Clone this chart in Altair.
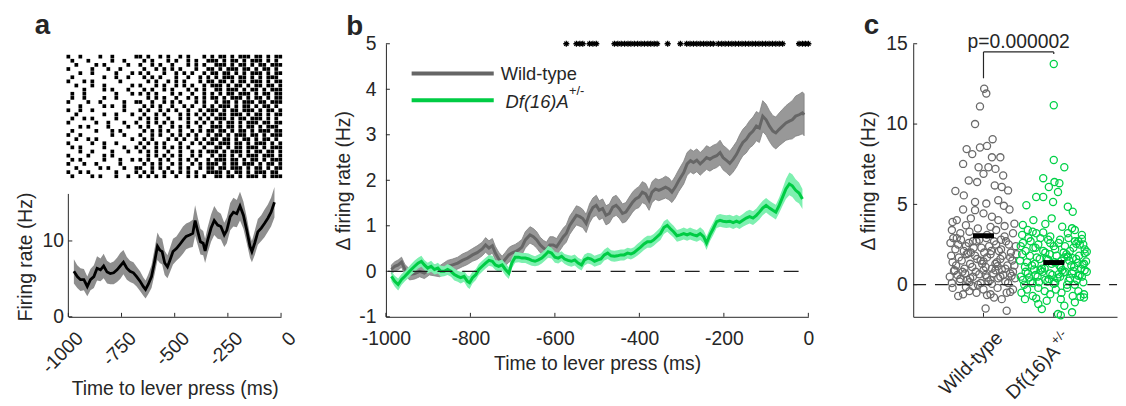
import altair as alt
import pandas as pd

FONT = "Liberation Sans"
INK = "#262626"
FS = 19.5

# ---------------- panel a : raster (one string per trial, '#' = spike in a 18.8 ms column)
raster_rows = [
    "#..#....#..#.....#" "#.#..#.#..#.#...#." "#.##.#.###.##.#.##",
    ".#...#.....#..#..." ".#.#...#.#..#.#..#" "##.#.##.#.###.#.#.",
    "..#....#.#.....#.." "#..#.#..#...#.#.#." ".###.#.##.#.##.###",
    "#.....#...#..#...." ".#..#.#.#.#...#..#" "#.#.###.##.#.##.#.",
    "...#..#.....#...#." "#.#...#..#.#.#..#." "##.##.#.#.###.#.##",
    ".#.......#..#..#.." ".#.#.#...#..#..#.#" ".#.###.##.#.#.###.",
    "#...#.#......#...." "..#.#..#.#.#...#.#" "#.##.#.##.###.#.##",
    "..#...#..#......#." "#...#.#..#.#.#..#." "###.#.##.#.##.##.#",
    "....#....#.#...#.." ".#.#..#.#...#.#.#." ".##.###.#.##.#.###",
    ".#..#.......#...#." "#.#.#...#.#..#..#." "#.#.##.###.#.##.##",
    ".#..#....#..#....." "..#.#.#..#..#.#.#." "##.#.###.#.##.#.##",
    "#....#..#.....#..#" "#..#..#.#.#...#.#." ".#.##.#.###.##.###",
    "...#.....#.#..#..." ".#.#.#..#..#.#..#." "#.###.#.##.#.##.#.",
    "#..#..#.......#..." "#.#..#.#.#..#..#.#" "##.#.##.###.#.##.#",
    "..#......#..#...#." ".#..#.#...#.#.#.#." "#.##.###.#.##.#.##",
    ".#..#.#.....#....." "#.#.#..#..#.#..#.#" ".###.#.##.###.#.#.",
    "#......#..#...#..#" "..#.#.#.#...#.#.#." "#.#.##.#.###.##.##",
    "...#.#....#....#.." "#.#..#..#.#.#..#.." "###.##.#.##.#.###.",
    ".#.....#...#.#...." ".#.#.#.#..#..#.#.#" "#.##.#.##.#.###.##",
    "#..#.......#..#..." "#..#.#..#.#.#.#..#" ".##.#.###.##.#.###",
    "..#..#.#........#." ".#.#...#.#.#..#.#." "##.##.#.##.#.##.#.",
    "#.....#..#..#....." "#.#.#.#...#..#.#.#" "#.###.##.#.###.#.#",
    ".#.#.....#....#..#" ".#..#.#.#.#.#...#." ".##.#.##.###.#.###",
    "...#..#....#...#.." "#.#.#..#..#..#.#.#" "##.#.###.#.##.##.#",
    "#....#...#.#......" "..#.#.#.#.#..#.#.." "#.##.#.#.###.###.#",
    ".#.#.....#...#..#." "#.#..#.#..#.#.#..#" ".###.##.#.##.#.###",
    "#...#..#.....#...." ".#.#.#..#.#..#.#.#" "##.#.##.###.#.##.#",
    "..#.....#.#...#..#" "#..#.#.#..#.#..#.#" "#.##.###.#.##.#.##",
    "#..#.#......#....#" ".#.#..#.#.#.#.#..#" "###.#.##.#.###.##.",
    ".#....#.#...#..#.." "#.#.#.#..#..#.#.#." ".##.##.#.###.#.###",
]
raster_start_ms = -1000
raster_bin_ms = 18.8

# ---------------- panel a : firing rate
rate_t = [-974, -958, -943, -927, -911, -896, -880, -865, -849, -834,
          -818, -803, -787, -771, -756, -741, -725, -710, -694, -679,
          -663, -648, -637, -624, -609, -593, -581, -570, -559, -547,
          -534, -522, -508, -492, -477, -461, -446, -430, -415, -404,
          -391, -379, -366, -357, -345, -329, -314, -298, -283, -267,
          -255, -239, -224, -208, -193, -177, -161, -146, -137, -124,
          -109, -93, -78, -62, -47, -31]
rate_hz = [6.0, 5.3, 4.9, 4.9, 4.0, 4.9, 5.3, 6.4, 6.2, 6.7,
           5.9, 5.7, 5.8, 6.2, 6.7, 7.2, 6.4, 6.0, 5.8, 5.3,
           4.7, 4.0, 3.6, 4.3, 5.3, 7.5, 9.3, 8.8, 8.6, 7.1,
           6.6, 7.5, 8.6, 9.0, 9.5, 10.1, 10.6, 10.8, 11.0, 12.7,
           11.2, 9.9, 9.7, 8.7, 10.1, 11.7, 12.7, 12.1, 11.9, 10.8,
           11.4, 13.2, 13.8, 13.6, 14.6, 13.4, 11.4, 9.3, 8.6, 9.7,
           11.2, 11.7, 12.3, 13.0, 13.8, 15.1]
rate_sem = [1.6, 1.5, 1.5, 1.4, 1.3, 1.4, 1.5, 1.6, 1.5, 1.6,
            1.5, 1.4, 1.5, 1.6, 1.7, 1.6, 1.5, 1.4, 1.4, 1.3,
            1.3, 1.2, 1.2, 1.3, 1.5, 1.7, 1.8, 1.7, 1.7, 1.6,
            1.5, 1.6, 1.7, 1.6, 1.7, 1.8, 1.7, 1.7, 1.8, 2.0,
            1.8, 1.7, 1.6, 1.6, 1.7, 1.8, 1.9, 1.8, 1.7, 1.6,
            1.7, 1.8, 1.9, 1.8, 1.9, 1.8, 1.7, 1.5, 1.4, 1.6,
            1.7, 1.7, 1.8, 1.8, 1.9, 2.0]
a_xticks = [-1000, -750, -500, -250, 0]
a_yticks = [0, 10]

# ---------------- panel b
wt_t = [-987, -979, -971, -963, -955, -944, -932, -920, -909, -897,
        -873, -854, -842, -830, -819, -807, -795, -784, -772, -764,
        -756, -748, -741, -733, -725, -717, -709, -702, -694, -686,
        -678, -670, -659, -651, -643, -635, -627, -620, -612, -604,
        -596, -588, -580, -573, -565, -557, -549, -541, -534, -526,
        -518, -510, -502, -495, -487, -479, -471, -463, -455, -448,
        -440, -432, -424, -416, -409, -401, -393, -385, -377, -370,
        -362, -354, -346, -338, -330, -323, -315, -307, -295, -287,
        -279, -272, -264, -256, -248, -241, -233, -225, -217, -209,
        -202, -194, -186, -178, -170, -162, -155, -147, -139, -131,
        -123, -116, -108, -100, -92, -84, -77, -69, -61, -53,
        -45, -38, -30, -22, -14, -10]
wt_v = [0.04, 0.11, 0.14, 0.20, 0.04, -0.07, -0.05, 0.00, -0.04, 0.04,
        0.00, 0.11, 0.14, 0.18, 0.24, 0.29, 0.36, 0.41, 0.49, 0.58,
        0.51, 0.56, 0.40, 0.27, 0.18, 0.27, 0.36, 0.40, 0.43, 0.47,
        0.53, 0.69, 0.80, 0.76, 0.69, 0.58, 0.51, 0.47, 0.58, 0.58,
        0.54, 0.65, 0.76, 0.83, 1.01, 1.12, 1.23, 1.20, 1.16, 1.05,
        1.27, 1.40, 1.45, 1.34, 1.38, 1.23, 1.27, 1.41, 1.45, 1.38,
        1.27, 1.30, 1.41, 1.52, 1.59, 1.63, 1.74, 1.70, 1.56, 1.74,
        1.81, 1.78, 1.81, 1.85, 1.81, 1.74, 1.85, 1.99, 2.17, 2.36,
        2.43, 2.39, 2.44, 2.36, 2.43, 2.50, 2.46, 2.51, 2.54, 2.61,
        2.50, 2.44, 2.37, 2.46, 2.57, 2.72, 2.83, 2.90, 3.01, 3.08,
        3.19, 3.15, 3.41, 3.33, 3.19, 3.08, 3.04, 3.12, 3.19, 3.26,
        3.30, 3.33, 3.41, 3.44, 3.48, 3.44]
wt_sem = [0.10, 0.10, 0.11, 0.11, 0.11, 0.12, 0.12, 0.12, 0.12, 0.12,
          0.12, 0.13, 0.13, 0.13, 0.14, 0.14, 0.14, 0.15, 0.15, 0.16,
          0.16, 0.16, 0.15, 0.15, 0.15, 0.15, 0.16, 0.16, 0.16, 0.17,
          0.17, 0.18, 0.18, 0.18, 0.18, 0.17, 0.17, 0.17, 0.18, 0.18,
          0.18, 0.19, 0.19, 0.19, 0.20, 0.20, 0.21, 0.21, 0.20, 0.20,
          0.21, 0.21, 0.22, 0.21, 0.21, 0.21, 0.21, 0.22, 0.22, 0.21,
          0.21, 0.21, 0.22, 0.22, 0.22, 0.23, 0.23, 0.23, 0.22, 0.23,
          0.23, 0.23, 0.23, 0.24, 0.24, 0.23, 0.24, 0.24, 0.25, 0.25,
          0.25, 0.25, 0.25, 0.25, 0.25, 0.26, 0.26, 0.26, 0.26, 0.27,
          0.27, 0.27, 0.27, 0.28, 0.28, 0.29, 0.29, 0.30, 0.30, 0.31,
          0.32, 0.32, 0.34, 0.34, 0.34, 0.34, 0.35, 0.36, 0.37, 0.38,
          0.40, 0.42, 0.44, 0.45, 0.46, 0.46]
df_t = [-987, -979, -971, -963, -955, -948, -940, -932, -924, -916,
        -909, -901, -893, -885, -877, -870, -862, -854, -846, -838,
        -830, -823, -815, -807, -802, -795, -787, -780, -772, -764,
        -756, -748, -741, -733, -725, -717, -709, -702, -694, -686,
        -678, -670, -662, -655, -647, -639, -631, -623, -616, -608,
        -600, -592, -584, -577, -569, -561, -553, -545, -537, -530,
        -522, -514, -506, -498, -491, -483, -475, -467, -459, -452,
        -444, -436, -428, -420, -413, -405, -397, -389, -381, -373,
        -366, -358, -350, -342, -334, -327, -319, -311, -303, -295,
        -287, -280, -272, -264, -256, -248, -241, -233, -225, -217,
        -209, -202, -194, -186, -178, -170, -163, -155, -147, -139,
        -131, -123, -116, -108, -100, -92, -84, -77, -69, -61,
        -53, -45, -38, -30, -22, -14]
df_v = [-0.11, -0.22, -0.29, -0.18, -0.11, -0.04, 0.04, 0.11, 0.18, 0.22,
        0.14, 0.07, 0.11, 0.04, 0.07, 0.00, 0.00, 0.04, 0.00, -0.07,
        -0.11, -0.14, -0.11, -0.22, -0.25, -0.14, -0.07, 0.04, 0.11, 0.18,
        0.24, 0.22, 0.14, 0.11, 0.14, 0.04, -0.04, 0.18, 0.31, 0.31,
        0.29, 0.29, 0.27, 0.24, 0.22, 0.25, 0.29, 0.36, 0.43, 0.40,
        0.31, 0.29, 0.33, 0.27, 0.24, 0.22, 0.25, 0.18, 0.14, 0.25,
        0.29, 0.27, 0.22, 0.25, 0.27, 0.36, 0.40, 0.34, 0.33, 0.34,
        0.36, 0.36, 0.40, 0.38, 0.41, 0.47, 0.53, 0.60, 0.65, 0.65,
        0.69, 0.76, 0.83, 0.96, 1.01, 0.94, 0.87, 0.78, 0.80, 0.83,
        0.80, 0.83, 0.80, 0.78, 0.83, 0.76, 0.62, 0.80, 0.94, 1.09,
        1.12, 1.10, 1.09, 1.10, 1.07, 1.10, 1.07, 1.12, 1.17, 1.20,
        1.17, 1.23, 1.30, 1.39, 1.45, 1.39, 1.34, 1.30, 1.45, 1.63,
        1.81, 1.92, 1.88, 1.78, 1.72, 1.59]
df_sem = [0.11, 0.12, 0.13, 0.12, 0.11, 0.12, 0.12, 0.13, 0.12, 0.12,
          0.11, 0.12, 0.12, 0.11, 0.12, 0.12, 0.11, 0.12, 0.12, 0.13,
          0.12, 0.13, 0.12, 0.13, 0.14, 0.13, 0.12, 0.12, 0.12, 0.12,
          0.12, 0.12, 0.11, 0.12, 0.12, 0.13, 0.13, 0.12, 0.12, 0.11,
          0.11, 0.11, 0.12, 0.12, 0.11, 0.12, 0.12, 0.12, 0.13, 0.12,
          0.12, 0.12, 0.11, 0.11, 0.12, 0.12, 0.12, 0.12, 0.12, 0.12,
          0.12, 0.12, 0.12, 0.12, 0.12, 0.12, 0.13, 0.12, 0.12, 0.12,
          0.12, 0.12, 0.12, 0.12, 0.12, 0.13, 0.13, 0.13, 0.13, 0.13,
          0.13, 0.13, 0.14, 0.14, 0.14, 0.13, 0.13, 0.13, 0.13, 0.13,
          0.13, 0.13, 0.13, 0.13, 0.14, 0.14, 0.15, 0.14, 0.14, 0.14,
          0.14, 0.14, 0.14, 0.14, 0.14, 0.14, 0.14, 0.14, 0.15, 0.15,
          0.15, 0.15, 0.16, 0.16, 0.16, 0.16, 0.16, 0.16, 0.17, 0.19,
          0.22, 0.25, 0.25, 0.24, 0.23, 0.22]
star_t = [-573, -549, -541, -534, -518, -510, -502, -459, -451, -443,
          -435, -427, -420, -412, -404, -396, -388, -380, -373, -365,
          -358, -333, -303, -288, -280, -272, -264, -256, -248, -240,
          -232, -225, -213, -205, -197, -189, -181, -173, -165, -157,
          -149, -141, -133, -125, -117, -109, -101, -93, -85, -77,
          -69, -61, -22, -14, -7, 0]
star_level = 5
b_xticks = [-1000, -800, -600, -400, -200, 0]
b_yticks = [-1, 0, 1, 2, 3, 4, 5]
series_names = ["Wild-type", "Df(16)A"]

# ---------------- panel c : per-cell delta firing rate (x jitter offsets + values)
wt_off = ([0.01, 0.04, -0.05, -0.12, 0.13, 0.05, -0.05, -0.24, -0.16, -0.29,
           0.12, 0.24, -0.07, 0.07, 0.17, 0.00, 0.28, -0.21, -0.09, 0.16,
           0.26, 0.35, -0.40, -0.28, -0.12, 0.04, 0.21, 0.29, 0.37, -0.29,
           -0.12, 0.00, 0.12, 0.21, -0.18, -0.38]
          + [-0.44, 0.44, -0.25, 0.30]
          + [-0.45, -0.33, -0.2, -0.08, 0.05, 0.18, 0.3, 0.42, -0.38, 0.1, 0.25, -0.15]
          + [-0.47, -0.40, -0.32, -0.25, -0.18, -0.10, -0.03, 0.04, 0.11, 0.18,
             0.25, 0.32, 0.39, 0.46, -0.43, -0.36, -0.28, -0.21, -0.14, -0.06,
             0.01, 0.08, 0.15, 0.22, 0.36]
          + [-0.46, -0.39, -0.31, -0.24, -0.16, -0.09, -0.02, 0.05, 0.12, 0.19,
             0.27, 0.34, 0.41, 0.47, -0.44, -0.35, -0.27, -0.19, -0.12, -0.04,
             0.03, 0.1, 0.17, 0.24, 0.31, 0.38, 0.44, -0.22, 0.0, 0.2]
          + [-0.48, -0.41, -0.34, -0.26, -0.19, -0.11, -0.04, 0.03, 0.1, 0.17,
             0.24, 0.31, 0.38, 0.45, -0.45, -0.37, -0.3, -0.23, -0.15, -0.08,
             0.0, 0.07, 0.14, 0.21, 0.28, 0.35, 0.42, -0.42, -0.2, 0.05,
             0.26, -0.33, 0.12, 0.4, -0.06]
          + [-0.36, -0.29, -0.2, -0.1, 0.0, 0.1, 0.2, 0.26, 0.33, 0.42,
             -0.44, -0.15, 0.05, 0.15, 0.03, 0.33, -0.25, 0.38])
wt_dfr = ([12.2, 11.9, 11.1, 10.0, 9.06, 8.64, 8.54, 8.44, 8.13, 7.52,
           7.93, 7.93, 7.31, 7.31, 7.21, 6.9, 6.8, 6.49, 6.39, 6.18,
           6.08, 5.87, 5.83, 5.56, 5.15, 5.05, 5.26, 4.91, 4.68, 4.68,
           4.64, 4.44, 4.23, 4.02, 4.13, 4.02]
          + [3.9, 3.8, 3.7, 3.65]
          + [3.4, 3.2, 3.3, 3.5, 3.1, 3.4, 3.0, 3.2, 2.9, 3.6, 2.8, 2.7]
          + [2.6, 2.2, 2.8, 2.4, 2.0, 2.7, 2.3, 2.9, 2.1, 2.5,
             2.2, 2.7, 2.0, 2.4, 2.9, 2.5, 2.1, 2.6, 2.3, 2.8,
             2.0, 2.4, 2.7, 2.1, 2.5]
          + [1.8, 1.2, 1.5, 1.9, 1.1, 1.6, 1.3, 1.7, 1.0, 1.4,
             1.8, 1.2, 1.5, 1.9, 1.4, 1.7, 1.0, 1.3, 1.8, 1.5,
             1.1, 1.9, 1.3, 1.6, 1.0, 1.7, 1.2, 1.95, 1.45, 1.15]
          + [0.5, 0.9, 0.2, 0.7, 0.4, 0.8, 0.1, 0.6, 0.3, 0.9,
             0.5, 0.2, 0.7, 0.4, 0.1, 0.6, 0.8, 0.3, 0.5, 0.0,
             0.9, 0.2, 0.7, 0.4, 0.6, 0.1, 0.8, 0.85, 0.15, 0.45,
             0.95, 0.35, 0.05, 0.55, 0.65]
          + [-0.7, -0.6, -0.4, -0.5, -0.3, -0.6, -0.2, -0.9, -0.5, -0.3,
             -0.2, -0.1, -0.65, -0.8, -1.48, -1.62, -0.15, -0.45])
mut_off = ([0.0, 0.0, 0.0, 0.15, -0.15, 0.01, 0.08, -0.07, 0.06, -0.25,
            -0.15, -0.01, -0.39, 0.2, 0.27, -0.03, -0.29, -0.44, -0.12, 0.12,
            0.26, -0.37, -0.25]
           + [-0.45, -0.3, -0.05, 0.2, 0.4, 0.3, -0.15]
           + [-0.47, -0.4, -0.33, -0.26, -0.19, -0.12, -0.05, 0.02, 0.09, 0.16,
              0.23, 0.3, 0.37, 0.44, -0.44, -0.36, -0.29, -0.22, -0.15, -0.08,
              0.0, 0.07, 0.14, 0.21, 0.28, 0.35, 0.42, 0.47, 0.32, 0.4]
           + [-0.48, -0.41, -0.34, -0.27, -0.2, -0.13, -0.06, 0.01, 0.08, 0.15,
              0.22, 0.29, 0.36, 0.43, -0.45, -0.38, -0.31, -0.24, -0.17, -0.1,
              -0.03, 0.04, 0.11, 0.18, 0.25, 0.32, 0.39, 0.46, 0.2, 0.34,
              0.44, -0.08, 0.1, 0.27, 0.41]
           + [-0.47, -0.4, -0.33, -0.26, -0.19, -0.12, -0.05, 0.02, 0.09, 0.16,
              0.23, 0.3, 0.37, 0.44, -0.44, -0.37, -0.3, -0.23, -0.16, -0.09,
              -0.02, 0.05, 0.12, 0.19, 0.26, 0.33, 0.4, 0.47, -0.35, -0.21,
              -0.07, 0.07, 0.21, 0.35, -0.28, 0.0, 0.14, 0.28, 0.42, -0.42]
           + [-0.46, -0.38, -0.3, -0.22, -0.13, -0.05, 0.03, 0.11, 0.19, 0.27,
              0.35, 0.43, -0.25, 0.1, 0.38]
           + [-0.1, 0.06, 0.1, 0.26, -0.17, 0.15, -0.41, 0.43, -0.22, 0.3])
mut_dfr = ([13.74, 11.17, 7.76, 7.31, 6.63, 6.39, 6.32, 6.08, 5.77, 5.46,
            5.46, 5.15, 4.95, 4.85, 4.54, 4.13, 4.02, 3.72, 3.78, 3.61,
            3.51, 3.41, 3.2]
           + [3.1, 3.3, 3.0, 3.2, 3.1, 3.4, 3.25]
           + [2.4, 2.1, 2.7, 2.3, 2.9, 2.0, 2.6, 2.2, 2.8, 2.4,
              2.1, 2.7, 2.5, 2.2, 2.6, 2.9, 2.3, 2.5, 2.1, 2.8,
              2.4, 2.6, 2.0, 2.9, 2.3, 2.7, 2.5, 2.05, 2.55, 2.85]
           + [1.5, 1.1, 1.8, 1.3, 1.6, 1.0, 1.9, 1.4, 1.2, 1.7,
              1.5, 1.1, 1.8, 1.3, 1.9, 1.4, 1.2, 1.7, 1.0, 1.6,
              1.3, 1.8, 1.5, 1.9, 1.2, 1.6, 1.0, 1.45, 1.75, 1.35,
              1.95, 1.55, 1.05, 1.65, 1.25]
           + [0.5, 0.8, 0.2, 0.6, 0.9, 0.3, 0.7, 0.1, 0.5, 0.8,
              0.4, 0.0, 0.6, 0.9, 0.3, 0.7, 0.1, 0.5, 0.8, 0.2,
              0.6, 0.4, 0.9, 0.0, 0.7, 0.3, 0.5, 0.8, 0.45, 0.15,
              0.35, 0.65, 0.25, 0.55, 0.95, 0.05, 0.75, 0.85, 0.15, 0.0]
           + [-0.5, -0.3, -0.7, -0.2, -0.4, -0.6, -0.3, -0.5, -0.2, -0.7,
              -0.4, -0.6, -0.85, -0.9, -0.75]
           + [-1.0, -1.83, -1.9, -1.72, -1.52, -1.31, -0.9, -0.8, -1.2, -1.1])
group_pos = [1, 2]
group_means = [3.05, 1.38]
c_yticks = [0, 5, 10, 15]
p_label = "p=0.000002"

# ---------------- styles
GRAY_BAND, GRAY_LINE = "#989898", "#666666"
GREEN_BAND, GREEN_LINE = "#7ef0b0", "#00cc44"
GRAY_PT, GREEN_PT = "#6a6a6a", "#00d147"
W_A, W_B, W_C, H = 215, 427, 206, 276
TICK = 4

one = pd.DataFrame({"k": [0]})


def txt(s, x, y, size=FS, weight="normal", style="normal", align="left",
        baseline="alphabetic", color=INK):
    return alt.Chart(one).mark_text(
        text=s, fontSize=size, fontWeight=weight, fontStyle=style, align=align,
        baseline=baseline, color=color, font=FONT
    ).encode(x=alt.value(x), y=alt.value(y))


# ====================== panel a
raster_df = pd.DataFrame(
    [{"t": raster_start_ms + i * raster_bin_ms, "trial": r}
     for r, row in enumerate(raster_rows) for i, ch in enumerate(row) if ch == "#"]
)
rate_df = pd.DataFrame({"t": rate_t, "hz": rate_hz, "sem": rate_sem})
rate_df["lo"] = rate_df["hz"] - rate_df["sem"]
rate_df["hi"] = rate_df["hz"] + rate_df["sem"]

xs_a = alt.Scale(domain=[-1000, 0], nice=False)
xax_a = alt.Axis(values=a_xticks, labelAngle=315, labelAlign="right",
                 labelBaseline="top", labelPadding=12, labelOffset=5,
                 labelExpr="datum.value + ''", title="Time to lever press (ms)",
                 titleY=64, titleBaseline="top")
ys_a = alt.Scale(domain=[0, 36], nice=False, zero=False)
yax_a = alt.Axis(values=a_yticks, domain=False, labelPadding=5,
                 title="Firing rate (Hz)", titleX=-33, titleY=215,
                 titleAngle=270, titleBaseline="bottom", titleAlign="center")

raster = alt.Chart(raster_df).mark_square(size=14, color="black", opacity=1).encode(
    x=alt.X("t:Q", scale=xs_a, axis=xax_a),
    y=alt.Y("trial:Q", scale=alt.Scale(domain=[-3.12, 63.07], reverse=True,
                                       nice=False, zero=False), axis=None),
)
rate_band = alt.Chart(rate_df).mark_area(color="#8e8e8e", opacity=1).encode(
    x=alt.X("t:Q", scale=xs_a, axis=xax_a),
    y=alt.Y("lo:Q", scale=ys_a, axis=yax_a), y2="hi:Q")
rate_line = alt.Chart(rate_df).mark_line(color="black", strokeWidth=2.8).encode(
    x=alt.X("t:Q", scale=xs_a, axis=xax_a),
    y=alt.Y("hz:Q", scale=ys_a, axis=yax_a))
rate_yline = alt.Chart(one).mark_rule(color=INK, strokeWidth=1).encode(
    x=alt.value(0), y=alt.Y(datum=0, scale=ys_a, axis=yax_a), y2=alt.datum(16.2))
a_xt = alt.Chart(pd.DataFrame({"v": a_xticks})).mark_rule(color=INK).encode(
    x=alt.X("v:Q", scale=xs_a, axis=xax_a), y=alt.value(H), y2=alt.value(H - TICK))
a_yt = alt.Chart(pd.DataFrame({"v": a_yticks})).mark_rule(color=INK).encode(
    y=alt.Y("v:Q", scale=ys_a, axis=yax_a), x=alt.value(0), x2=alt.value(TICK))

rate_layer = alt.layer(rate_band, rate_line, rate_yline, a_xt, a_yt)
panel_a = alt.layer(raster, rate_layer, txt("a", -34, -10, size=28, weight="bold")
                    ).resolve_scale(y="independent").properties(width=W_A, height=H)

# ====================== panel b
wt_df = pd.DataFrame({"t": wt_t, "v": wt_v, "sem": wt_sem})
mu_df = pd.DataFrame({"t": df_t, "v": df_v, "sem": df_sem})
for d in (wt_df, mu_df):
    d["lo"] = d["v"] - d["sem"]
    d["hi"] = d["v"] + d["sem"]

xs_b = alt.Scale(domain=[-1000, 0], nice=False)
ys_b = alt.Scale(domain=[-1, 5], nice=False)
xax_b = alt.Axis(values=b_xticks, labelPadding=13, labelExpr="datum.value + ''",
                 title="Time to lever press (ms)", titleY=38, titleBaseline="top")
yax_b = alt.Axis(values=b_yticks, labelPadding=10, labelExpr="datum.value + ''",
                 title="Δ firing rate (Hz)", titleX=-33, titleAngle=270,
                 titleBaseline="bottom")


def bx(f):
    return alt.X(f, scale=xs_b, axis=xax_b)


def by(f):
    return alt.Y(f, scale=ys_b, axis=yax_b)


wt_band = alt.Chart(wt_df).mark_area(color=GRAY_BAND, opacity=1, stroke="#808080",
                                     strokeWidth=0.8).encode(
    x=bx("t:Q"), y=by("lo:Q"), y2="hi:Q")
wt_line = alt.Chart(wt_df).mark_line(color=GRAY_LINE, strokeWidth=3).encode(
    x=bx("t:Q"), y=by("v:Q"))
mu_band = alt.Chart(mu_df).mark_area(color=GREEN_BAND, opacity=1).encode(
    x=bx("t:Q"), y=by("lo:Q"), y2="hi:Q")
mu_line = alt.Chart(mu_df).mark_line(color=GREEN_LINE, strokeWidth=3).encode(
    x=bx("t:Q"), y=by("v:Q"))
zero_b = alt.Chart(one).mark_rule(color="#1f1f1f", strokeWidth=1.3,
                                  strokeDash=[15, 10]).encode(
    x=alt.X(datum=-995, scale=xs_b, axis=xax_b), x2=alt.datum(-15),
    y=alt.Y(datum=0, scale=ys_b, axis=yax_b))
ASTER = "M0,-1L0,1M-1,0L1,0M-0.7,-0.7L0.7,0.7M-0.7,0.7L0.7,-0.7"
stars = alt.Chart(pd.DataFrame({"t": star_t})).mark_point(
    shape=ASTER, filled=False, stroke="black", strokeWidth=1.3, size=38, opacity=1
).encode(x=bx("t:Q"), y=alt.Y(datum=star_level, scale=ys_b, axis=yax_b))
b_xt = alt.Chart(pd.DataFrame({"v": b_xticks})).mark_rule(color=INK).encode(
    x=bx("v:Q"), y=alt.value(H), y2=alt.value(H - TICK))
b_yt = alt.Chart(pd.DataFrame({"v": b_yticks})).mark_rule(color=INK).encode(
    y=by("v:Q"), x=alt.value(0), x2=alt.value(TICK))
leg_wt = alt.Chart(one).mark_rule(color=GRAY_LINE, strokeWidth=4).encode(
    x=alt.value(26), x2=alt.value(109), y=alt.value(30))
leg_mu = alt.Chart(one).mark_rule(color=GREEN_LINE, strokeWidth=4).encode(
    x=alt.value(26), x2=alt.value(109), y=alt.value(57))

panel_b = alt.layer(
    wt_band, wt_line, mu_band, mu_line, zero_b, stars, b_xt, b_yt,
    leg_wt, leg_mu,
    txt(series_names[0], 116, 37, size=18.5),
    txt(series_names[1], 121, 65, size=18.5, style="italic"),
    txt("+/-", 185, 52, size=13),
    txt("b", -40, -9, size=28, weight="bold"),
).properties(width=W_B, height=H)

# ====================== panel c
pts = pd.DataFrame({
    "x": [group_pos[0] + o for o in wt_off] + [group_pos[1] + o for o in mut_off],
    "y": wt_dfr + mut_dfr,
    "g": ["wt"] * len(wt_dfr) + ["mut"] * len(mut_dfr),
})
means_df = pd.DataFrame({"pos": group_pos, "m": group_means})
xs_c = alt.Scale(domain=[0, 2.9], nice=False, zero=False)
ys_c = alt.Scale(domain=[-2, 15], nice=False)
xax_c = alt.Axis(values=group_pos, labels=False, title="")
yax_c = alt.Axis(values=c_yticks, labelPadding=6, title="Δ firing rate (Hz)",
                 titleX=-35, titleAngle=270, titleBaseline="bottom")


def cx(f):
    return alt.X(f, scale=xs_c, axis=xax_c)


def cy(f):
    return alt.Y(f, scale=ys_c, axis=yax_c)


wt_pts = alt.Chart(pts).transform_filter("datum.g == 'wt'").mark_point(
    shape="circle", filled=False, size=52, strokeWidth=1.3, color=GRAY_PT, opacity=1
).encode(x=cx("x:Q"), y=cy("y:Q"))
mu_pts = alt.Chart(pts).transform_filter("datum.g == 'mut'").mark_point(
    shape="circle", filled=False, size=52, strokeWidth=1.3, color=GREEN_PT, opacity=1
).encode(x=cx("x:Q"), y=cy("y:Q"))
zero_c = alt.Chart(one).mark_rule(color="#1f1f1f", strokeWidth=1.3,
                                  strokeDash=[13, 9]).encode(
    x=alt.value(0), x2=alt.value(W_C), y=alt.Y(datum=0, scale=ys_c, axis=yax_c))
BAR_HALF = 0.15
mean_bars = alt.Chart(means_df).transform_calculate(
    x1=f"datum.pos - {BAR_HALF}", x2=f"datum.pos + {BAR_HALF}"
).mark_rule(color="black", strokeWidth=5).encode(
    x=cx("x1:Q"), x2="x2:Q", y=cy("m:Q"))
BR_Y, BR_L, BR_R = 14.49, 12.85, 14.37
br_h = alt.Chart(one).mark_rule(color=INK, strokeWidth=1.2).encode(
    x=alt.X(datum=group_pos[0], scale=xs_c, axis=xax_c), x2=alt.datum(group_pos[1]),
    y=alt.Y(datum=BR_Y, scale=ys_c, axis=yax_c))
br_l = alt.Chart(one).mark_rule(color=INK, strokeWidth=1.2).encode(
    x=alt.X(datum=group_pos[0], scale=xs_c, axis=xax_c),
    y=alt.Y(datum=BR_L, scale=ys_c, axis=yax_c), y2=alt.datum(BR_Y))
br_r = alt.Chart(one).mark_rule(color=INK, strokeWidth=1.2).encode(
    x=alt.X(datum=group_pos[1], scale=xs_c, axis=xax_c),
    y=alt.Y(datum=BR_R, scale=ys_c, axis=yax_c), y2=alt.datum(BR_Y))
p_text = alt.Chart(one).mark_text(text=p_label, fontSize=FS, font=FONT, color=INK,
                                  align="center", baseline="alphabetic").encode(
    x=alt.X(datum=(group_pos[0] + group_pos[1]) / 2, scale=xs_c, axis=xax_c),
    y=alt.Y(datum=14.75, scale=ys_c, axis=yax_c))
c_xt = alt.Chart(means_df).mark_rule(color=INK).encode(
    x=cx("pos:Q"), y=alt.value(H), y2=alt.value(H - TICK))
c_yt = alt.Chart(pd.DataFrame({"v": c_yticks})).mark_rule(color=INK).encode(
    y=cy("v:Q"), x=alt.value(0), x2=alt.value(TICK))
lab_wt = alt.Chart(means_df.iloc[[0]]).mark_text(
    text=series_names[0], fontSize=FS, font=FONT, color=INK, angle=315,
    align="right", baseline="top", dx=-1.5, dy=15.5).encode(
    x=cx("pos:Q"), y=alt.value(H))
lab_mu = alt.Chart(means_df.iloc[[1]]).mark_text(
    text=series_names[1], fontSize=FS, font=FONT, color=INK, angle=315,
    align="right", baseline="top", dx=-21, dy=16).encode(
    x=cx("pos:Q"), y=alt.value(H))
lab_mu_sup = alt.Chart(means_df.iloc[[1]]).mark_text(
    text="+/-", fontSize=13, font=FONT, color=INK, angle=315,
    align="left", baseline="top", dx=-19, dy=12).encode(
    x=cx("pos:Q"), y=alt.value(H))

panel_c = alt.layer(
    wt_pts, mu_pts, zero_c, mean_bars, br_h, br_l, br_r, p_text, c_xt, c_yt,
    lab_wt, lab_mu, lab_mu_sup,
    txt("c", -50, -10, size=28, weight="bold"),
).properties(width=W_C, height=H)

chart = alt.hconcat(panel_a, panel_b, panel_c, spacing=106, bounds="flush").properties(
    padding={"left": 8, "top": 2, "right": 0, "bottom": 0}
).configure_view(stroke=None).configure_axis(
    labelFont=FONT, titleFont=FONT, labelFontSize=FS, titleFontSize=FS,
    labelColor=INK, titleColor=INK, domainColor=INK, domainWidth=1,
    ticks=False, grid=False, titleFontWeight="normal", labelFlush=False,
    labelOverlap=False
)

chart.save("out.html", embed_options={"renderer": "svg", "actions": False})
